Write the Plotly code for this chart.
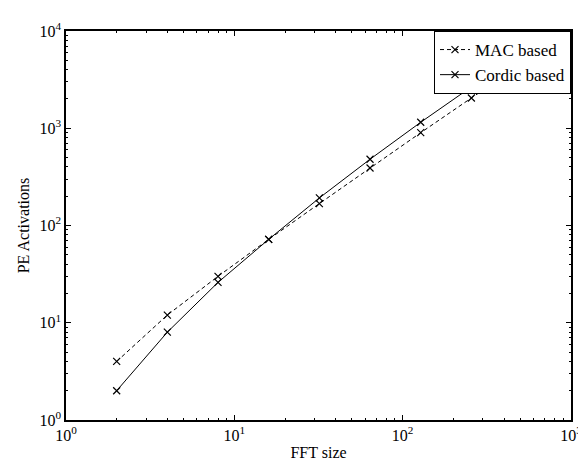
import plotly.graph_objects as go

fft_size = [2, 4, 8, 16, 32, 64, 128, 256, 512]
mac_based = [4, 12, 30, 72, 168, 390, 900, 2048, 4608]
cordic_based = [2, 8, 26, 72, 192, 480, 1152, 2688, 6144]

x_tick_vals = [1, 10, 100, 1000]
x_tick_text = ["10<sup>0</sup>", "10<sup>1</sup>", "10<sup>2</sup>", "10<sup>3</sup>"]
y_tick_vals = [1, 10, 100, 1000, 10000]
y_tick_text = ["10<sup>0</sup>", "10<sup>1</sup>", "10<sup>2</sup>", "10<sup>3</sup>", "10<sup>4</sup>"]

x_minor = [m * 10 ** d for d in range(3) for m in range(2, 10)]
y_minor = [m * 10 ** d for d in range(4) for m in range(2, 10)]

font = "Liberation Serif, Times New Roman, serif"

fig = go.Figure()
fig.add_trace(go.Scatter(
    x=fft_size, y=mac_based, name="MAC based", mode="lines+markers",
    line=dict(color="black", width=1, dash="4px,3px"),
    marker=dict(symbol="x-thin", size=7, line=dict(color="black", width=1.2)),
))
fig.add_trace(go.Scatter(
    x=fft_size, y=cordic_based, name="Cordic based", mode="lines+markers",
    line=dict(color="black", width=1),
    marker=dict(symbol="x-thin", size=7, line=dict(color="black", width=1.2)),
))

axis_common = dict(
    type="log", showgrid=False, zeroline=False, showline=True, mirror="allticks",
    linecolor="black", linewidth=1.5, ticks="inside", ticklen=5, tickwidth=1,
    tickcolor="black",
    tickfont=dict(family=font, size=16, color="black"),
)

minor_common = dict(
    type="log", showgrid=False, zeroline=False, showline=True, mirror="allticks",
    linecolor="black", linewidth=1.5,
    ticks="inside", ticklen=2.5, tickwidth=1, tickcolor="black",
    showticklabels=False, tickmode="array",
)

fig.update_layout(
    xaxis=dict(
        range=[0, 3], tickmode="array", tickvals=x_tick_vals, ticktext=x_tick_text,
        title=dict(text="FFT size", font=dict(family=font, size=16, color="black"), standoff=4),
        **axis_common,
    ),
    yaxis=dict(
        range=[0, 4], tickmode="array", tickvals=y_tick_vals, ticktext=y_tick_text,
        title=dict(text="PE Activations", font=dict(family=font, size=16, color="black"), standoff=6),
        **axis_common,
    ),
    xaxis2=dict(range=[0, 3], overlaying="x", anchor="y", side="bottom", tickvals=x_minor, **minor_common),
    yaxis2=dict(range=[0, 4], overlaying="y", anchor="x", side="left", tickvals=y_minor, **minor_common),
)

# invisible helper trace so the minor-tick axes are drawn
fig.add_trace(go.Scatter(x=[fft_size[0]], y=[mac_based[0]], xaxis="x2", yaxis="y2",
                         mode="markers", marker=dict(opacity=0), showlegend=False, hoverinfo="skip"))

fig.update_layout(
    width=586, height=463,
    margin=dict(l=58, r=20, t=14, b=49),
    plot_bgcolor="white", paper_bgcolor="white",
    showlegend=True,
    legend=dict(
        x=1, y=1, xanchor="right", yanchor="top",
        bgcolor="white", bordercolor="black", borderwidth=1,
        font=dict(family=font, size=17, color="black"),
        tracegroupgap=0, itemwidth=30,
    ),
)

fig.write_html("out.html")
